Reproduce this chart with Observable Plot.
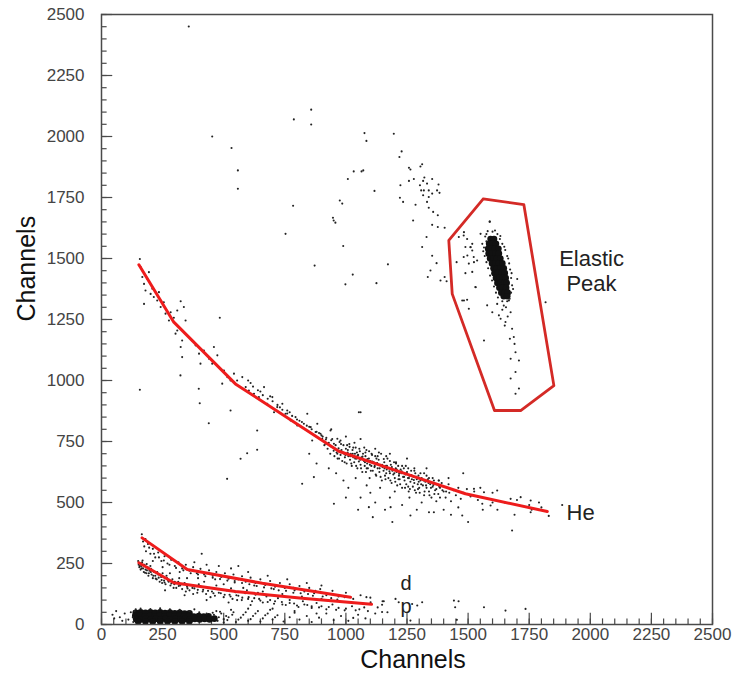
<!DOCTYPE html>
<html>
<head>
<meta charset="utf-8">
<script src="https://cdn.jsdelivr.net/npm/d3@7"></script>
<script src="https://cdn.jsdelivr.net/npm/@observablehq/plot@0.6"></script>
<style>
  html, body { margin: 0; padding: 0; background: #fff; }
  #chart { width: 735px; height: 683px; }
</style>
</head>
<body>
<div id="chart"></div>
<script>
// ---- tick labels ----
const xTicks = [0, 250, 500, 750, 1000, 1250, 1500, 1750, 2000, 2250, 2500];
const yTicks = [0, 250, 500, 750, 1000, 1250, 1500, 1750, 2000, 2250, 2500];

// ---- red gates ----
const heLine = [[153,1474],[296,1239],[548,986],[971,710],[1264,611],[1489,536],[1824,463]];
const dLine = [[166,355],[351,225],[658,169],[1019,112]];
const pLine = [[153,253],[296,171],[548,135],[821,108],[1105,83]];
const elasticGate = [[1562,1744],[1728,1721],[1851,979],[1715,877],[1608,877],[1435,1355],[1421,1574],[1562,1744]];

// ---- labels ----
const centerLabels = [
  {x: 2005, y: 1452, text: "Elastic\nPeak"}
];
const bandLabels = [
  {x: 1246, y: 167, text: "d"},
  {x: 1246, y: 72, text: "p"}
];
const startLabels = [
  {x: 1903, y: 456, text: "He"}
];

// ---- events: sparse upper scatter ----
const upperPts = [[357,2451],[453,2000],[532,1953],[558,1861],[558,1786],[858,2110],[787,2070],[858,2049],[1076,2014],[1084,1982],
[1196,2011],[1228,1939],[1219,1916],[1258,1872],[1264,1865],[1312,1886],[1305,1877],[1032,1857],[1064,1857],[1071,1861],
[1008,1826],[1258,1818],[1278,1826],[1321,1832],[1316,1818],[1353,1826],[1223,1800],[1303,1800],[1332,1807],[1379,1803],
[1308,1779],[1319,1779],[1339,1779],[1373,1779],[1383,1769],[1117,1777],[1316,1759],[1339,1752],[1353,1766],[1221,1749],
[1234,1732],[975,1738],[985,1725],[784,1716],[1285,1720],[1332,1732],[1339,1708],[947,1667],[950,1656],[957,1647],
[1275,1656],[1357,1691],[1376,1677],[1353,1638],[1376,1629],[1404,1626],[753,1601],[1330,1588],[989,1551],[1312,1547],
[1353,1511],[1371,1481],[872,1471],[1172,1476],[1028,1434],[998,1394],[1125,1399],[1335,1424],[1346,1451],[1387,1410],
[1404,1424],[1412,1407],[484,1257],[157,962],[323,1021],[398,966],[402,907],[439,825],[528,877],[637,795],[1053,870],
[569,679],[596,702],[637,716],[514,597],[1060,870],[1680,385],[1885,490],[1817,1321]];

// ---- events: inside / around the elastic peak ----
const elasticPts = [[1462,1588],[1482,1594],[1496,1580],[1517,1560],[1510,1547],[1489,1547],[1453,1485],[1482,1506],[1517,1533],[1523,1506],
[1503,1479],[1537,1492],[1489,1440],[1517,1445],[1530,1383],[1476,1328],[1496,1331],[1646,1307],[1667,1328],[1674,1280],
[1633,1253],[1653,1240],[1680,1212],[1687,1178],[1671,1171],[1694,1116],[1674,1089],[1708,1082],[1694,1035],[1674,1008],
[1708,967],[1694,946],[1565,1164],[1619,1314],[1599,1280],[1626,1267],[1578,1308],[1701,1416],[1503,1294],[1531,1382],
[1483,1328],[1497,1512],[1524,1485],[1551,1601],[1588,1651],[1483,1608],[1510,1546],[1589,1651],
[1570,1590],[1575,1570],[1565,1545],[1568,1510],[1575,1485],[1582,1460],[1590,1430],[1598,1410],[1606,1385],[1614,1360],
[1622,1340],[1640,1325],[1660,1325],[1676,1360],[1680,1390],[1676,1420],[1672,1455],[1668,1480],[1660,1510],[1652,1535],
[1640,1560],[1630,1580],[1620,1600],[1600,1610],[1580,1612],[1655,1300],[1640,1290],[1662,1262],[1650,1225],[1690,1150],
[1562,1530],[1558,1560],[1575,1600],[1610,1615],[1632,1592],[1648,1548],[1664,1500],[1678,1440],[1684,1375],[1670,1335]];

const elasticCore = [[1592,1580],[1606,1580],
[1586,1560],[1600,1560],[1614,1560],
[1582,1540],[1596,1540],[1610,1540],[1624,1540],
[1584,1520],[1598,1520],[1612,1520],[1626,1520],
[1590,1500],[1604,1500],[1618,1500],[1632,1500],
[1598,1480],[1612,1480],[1626,1480],[1640,1480],
[1604,1460],[1618,1460],[1632,1460],[1646,1460],
[1608,1440],[1622,1440],[1636,1440],[1650,1440],
[1614,1420],[1628,1420],[1642,1420],[1654,1420],
[1620,1400],[1634,1400],[1648,1400],[1658,1400],
[1628,1380],[1642,1380],[1656,1380],
[1636,1360],[1650,1360],[1662,1360],
[1646,1345],[1660,1345]];

// ---- events: He band ----
const hePts = [[157,1498],[160,1465],[167,1424],[174,1396],[187,1417],[194,1444],[180,1369],[201,1355],[208,1376],[214,1342],
[228,1328],[235,1362],[174,1314],[242,1301],[255,1321],[262,1274],[276,1246],[283,1280],[296,1257],[310,1287],
[324,1325],[337,1301],[344,1246],[310,1205],[303,1192],[330,1164],[324,1137],[330,1096],[371,1164],[385,1144],
[399,1110],[405,1069],[419,1123],[440,1089],[460,1137],[474,1103],[453,1069],[480,1055],[501,1041],[515,1014],
[494,987],[528,1000],[542,1028],[555,1000],[576,1014],[590,973],[603,959],[624,946],[644,932],[665,973],
[678,905],[699,932],[706,870],[719,891],[740,905],[753,864],[760,877],[774,836],[794,850],[801,816],
[828,823],[842,864],[856,809],[876,789],[883,823],[896,782],[903,761],[862,754],[917,741],[937,795],
[951,741],[965,761],[978,754],[600,1000],[620,975],[640,960],[660,940],[680,925],[700,915],[720,900],
[740,880],[760,865],[780,855],[800,840],[820,830],[840,815],[860,800],[880,790],[900,775],[920,765],
[940,755],[610,990],[650,955],[690,935],[730,890],[770,870],[810,835],[850,810],[890,785],
[905,770],[912,735],[918,758],[925,720],[930,745],[936,700],[940,730],[944,760],[950,712],[953,690],
[958,735],[962,705],[966,680],[970,722],[974,748],[978,695],[982,715],[985,670],[990,735],[993,700],
[996,685],[1000,720],[1003,660],[1007,705],[1010,690],[1014,740],[1017,675],[1020,700],[1024,650],[1027,715],
[1030,685],[1034,665],[1037,700],[1040,725],[1044,680],[1047,640],[1050,695],[1053,668],[1057,710],[1060,655],
[1064,685],[1067,625],[1070,700],[1074,670],[1077,650],[1080,690],[1084,715],[1087,660],[1090,640],[1094,680],
[1097,600],[1100,670],[1104,650],[1107,695],[1110,630],[1114,665],[1117,645],[1120,690],[1124,610],[1127,660],
[1130,640],[1134,675],[1137,625],[1140,655],[1144,700],[1147,590],[1150,645],[1154,630],[1157,665],[1160,610],
[1164,650],[1167,635],[1170,680],[1174,600],[1177,640],[1180,620],[1184,655],[1187,580],[1190,630],[1194,615],
[1197,665],[1200,600],[1204,640],[1207,625],[1210,570],[1214,650],[1217,610],[1220,595],[1224,635],[1227,620],
[1230,560],[1234,605],[1237,640],[1240,590],[1244,615],[1247,575],[1250,625],[1254,600],[1257,545],[1260,610],
[1264,585],[1267,630],[1270,595],[1274,565],[1277,605],[1280,580],[1284,620],[1287,540],[1290,595],[1294,575],
[1297,610],[1300,560],[1305,590],[1310,600],[1315,570],[1320,530],[1325,585],[1330,560],[1335,595],[1340,545],
[1345,575],[1350,520],[1355,565],[1360,590],[1365,550],[1370,575],[1378,535],[1385,560],[1392,580],[1400,545],
[1408,520],[1415,560],[1423,540],[1430,505],[1440,550],[1450,530],[1460,560],[1470,515],[1480,540],[1495,555],
[1510,525],[1525,545],[960,620],[990,590],[1010,560],[1040,600],[1060,520],[1085,570],[1100,540],[1120,500],
[1140,560],[1160,470],[1180,520],[1200,545],[1230,490],[1260,520],[1290,470],[1310,500],[1340,460],[1370,505],
[1400,470],[1430,450],[1460,480],[1500,420],[1050,470],[1000,520],[930,640],[880,660],[850,700],[1110,440],
[1190,420],[940,800],[1000,770],[1060,760],[1120,720],[1180,700],[1250,680],[1330,640],[1420,600],[1480,620],
[1550,560],[1600,540],[1650,500],[1700,510],[1750,490],[1800,480],[1830,445],[1560,470],[1620,470],[1690,450],
[1760,470],[1790,500],[1540,510],[1600,500],[1524,556],[1565,542],[1619,549],[1674,515],[1715,522],[1756,508],
[1756,460],[1592,488],[1558,495],[1476,447],[1360,460],[1264,447],[1183,481],[1094,481],[951,495],[821,577],[869,604],
[1015,728],[1035,745],[1075,725],[1095,710],[1135,705],[1165,690],[1205,665],[1245,650],[1280,640],[1320,620],
[1045,705],[1085,640],[1125,680],[1165,620],[1215,595],[1255,565],[1295,555],[1340,600],[1380,590],[1420,575],
[965,700],[975,710],[988,705],[998,695],[1008,715],[1018,690],[1028,700],[1038,680],[1048,692],[1058,675],
[1068,688],[1078,665],[1088,678],[1098,655],[1108,668],[1118,650],[1128,662],[1138,640],[1148,655],[1158,640],
[1168,650],[1178,628],[1188,645],[1198,620],[1208,635],[1218,618],[1228,628],[1238,605],[1248,620],[1258,600],
[1268,612],[1278,592],[1288,605],[1298,585],[1308,575],[1318,590],[1328,570],[1338,580],[1348,560],[1358,572],
[1370,555],[1382,565],[1395,550],[1410,545],[972,680],[995,665],[1022,660],[1042,650],[1062,640],[1082,625],
[1102,630],[1122,615],[1142,605],[1162,595],[1182,590],[1202,585],[1222,575],[1242,560],[1262,555],[1282,550],
[1302,540],[1322,545],[1342,530],[1362,535],[1385,520],[980,740],[1005,735],[1030,725],[1055,720],[1080,705],
[1105,700],[1130,690],[1155,678],[1180,670],[1205,660],[1230,650],[1255,640],[1280,630],[1305,620],[1330,610],
[1355,600],[1380,590]];

// ---- events: deuteron band ----
const dPts = [[165,370],[170,340],[175,320],[182,300],[190,330],[200,290],[210,310],[220,275],[232,295],[245,260],
[258,280],[270,250],[285,265],[300,240],[315,255],[330,230],[345,245],[360,220],[375,235],[390,210],
[405,228],[420,205],[440,222],[455,200],[470,215],[490,195],[505,210],[520,188],[540,205],[560,185],
[575,198],[590,175],[610,192],[630,170],[650,185],[670,162],[690,178],[710,155],[730,170],[750,150],
[770,165],[790,140],[810,158],[830,135],[850,150],[870,128],[895,145],[920,120],[945,138],[970,115],
[1000,130],[1030,105],[1060,120],[1100,110],[1150,95],[380,255],[430,245],[480,240],[530,230],[600,215],
[680,200],[760,185],[840,170],[900,160],[250,235],[320,215],[395,190],[465,185],[545,172],[625,160],
[705,145],[785,130],[865,118],[940,108],[1155,95],[1148,81],[1101,91],[1084,112],[1203,105],[1216,91],
[1312,91],[1292,78],[1271,84],[1442,98],[1461,95],[1447,71],[1565,71],[1653,57],[1735,64],[410,290],[560,240],
[180,350],[195,315],[215,290],[235,275],[255,262],[278,245],[305,232],[335,222],[365,210],[395,205],
[425,198],[455,192],[485,186],[515,180],[545,178],[575,170],[605,165],[635,158],[665,152],[695,148],
[725,140],[755,138],[785,150],[815,128],[845,125],[875,138],[905,115],[935,125],[965,102],[995,112]];

// ---- events: proton band ----
const pPts = [[150,260],[152,245],[155,235],[158,250],[160,225],[163,240],[166,255],[170,230],[173,215],[176,245],
[180,225],[184,210],[188,235],[192,200],[196,220],[200,240],[205,205],[210,190],[215,215],[220,200],
[226,185],[232,205],[238,175],[244,195],[250,210],[256,180],[262,165],[268,190],[275,175],[282,160],
[290,185],[298,165],[306,150],[314,175],[322,160],[330,145],[340,170],[350,155],[360,140],[370,162],
[380,148],[392,130],[404,158],[416,142],[428,125],[440,150],[452,135],[464,118],[476,145],[488,128],
[500,112],[512,140],[524,122],[536,105],[548,132],[560,118],[574,100],[588,128],[602,112],[616,95],
[630,122],[645,105],[660,90],[675,115],[690,100],[706,85],[722,108],[738,92],[754,80],[770,100],
[788,86],[806,72],[824,95],[842,80],[860,68],[880,88],[900,75],[920,62],[945,82],[970,68],
[995,58],[1025,75],[1055,62],[1090,55],[1130,70],[1170,50],[210,260],[280,210],[350,190],[420,175],
[500,165],[580,150],[660,135],[740,125],[820,115],[900,105],[260,140],[340,120],[430,100],[520,90],
[610,80],[700,65],[790,55],[880,45],[168,262],[185,248],[203,228],[228,215],[248,170],[266,200],
[295,150],[318,190],[345,135],[375,125],[398,165],[446,112],[470,160],[530,148],[555,100],[595,140],[640,130],[685,120],
[157,240],[164,230],[171,245],[178,212],[186,222],[194,210],[202,215],[212,200],[222,188],[234,192],
[246,182],[258,172],[272,180],[286,168],[300,175],[316,158],[334,165],[352,148],[372,150],[394,142],
[414,135],[436,138],[458,128],[480,130],[504,122],[528,115],[552,120],[576,110],[600,105],[625,108],
[650,98],[680,92],[710,95],[740,82],[770,88],[800,78],[830,82],[860,75],[890,70],[930,72],
[960,60],[1000,65],[1040,58],[1075,70]];

// ---- events: low-amplitude band near zero ----
const lowPts = [[45,40],[52,25],[60,55],[75,30],[85,15],[95,45],[110,20],[120,50],[520,30],[540,50],
[560,20],[580,40],[600,15],[620,35],[640,55],[660,25],[680,45],[700,20],[720,38],[745,12],
[770,30],[790,48],[810,20],[840,35],[860,10],[890,28],[920,45],[950,18],[980,35],[1010,15],
[1050,40],[1080,25],[1120,45],[530,60],[600,65],[690,60],[1030,27],[1148,51],[1454,19],[1264,16],
[140,62],[160,65],[200,63],[240,66],[280,62],[320,60],[360,55],[400,50],[430,45],[460,40],
[480,30],[500,22],[490,45],[510,35],[470,55],[380,62],[130,10],[135,55],[128,30],[500,8],[475,15],[455,48],[485,52],
[515,18],[535,40],[550,10],[570,28],[590,50],[610,22],[630,45],[650,12],[670,38],[710,30]];

const lowCore = [[140,48],[160,50],[180,48],[200,50],[220,48],[240,50],[260,47],[280,49],[300,46],[320,48],[340,45],[360,46],
[138,35],[158,36],[178,34],[198,36],[218,34],[238,36],[258,34],[278,36],[298,34],[318,36],[338,34],[358,35],[378,33],[398,35],[418,33],[438,34],
[142,22],[162,21],[182,23],[202,21],[222,23],[242,21],[262,23],[282,21],[302,23],[322,21],[342,23],[362,21],[382,23],[402,21],[422,23],[442,21],[462,24],
[150,12],[180,12],[210,12],[240,12],[270,12],[300,12],[330,12],[360,13]];

// ---- axis tick positions ----
const minorTicks = d3.range(0, 2501, 50);
const majorTicks = xTicks;

const allPts = [...upperPts, ...elasticPts, ...hePts, ...dPts, ...pPts, ...lowPts];
const corePts = [...elasticCore, ...lowCore];

const axisColor = "#4a4a4a";
const chart = Plot.plot({
  width: 735,
  height: 683,
  marginLeft: 101,
  marginRight: 23,
  marginTop: 14,
  marginBottom: 59,
  style: {fontFamily: "'Liberation Sans', Arial, sans-serif", background: "#fff", overflow: "visible"},
  x: {domain: [0, 2500], label: null},
  y: {domain: [0, 2500], label: null},
  marks: [
    // inward ticks
    Plot.ruleX(minorTicks, {x: d => d, y1: 0, y2: 23, stroke: axisColor, strokeWidth: 1.2}),
    Plot.ruleX(majorTicks, {x: d => d, y1: 0, y2: 46, stroke: axisColor, strokeWidth: 1.2}),
    Plot.ruleY(minorTicks, {y: d => d, x1: 0, x2: 23, stroke: axisColor, strokeWidth: 1.2}),
    Plot.ruleY(majorTicks, {y: d => d, x1: 0, x2: 46, stroke: axisColor, strokeWidth: 1.2}),
    Plot.axisX(xTicks, {tickSize: 0, tickPadding: 3, fontSize: 17, fill: "#444", label: null, tickFormat: d => String(d)}),
    Plot.axisY(yTicks, {tickSize: 0, tickPadding: 17, fontSize: 17, fill: "#444", label: null, tickFormat: d => String(d)}),
    // events
    Plot.dot(corePts, {x: d => d[0], y: d => d[1], r: 3.3, fill: "#111", stroke: null}),
    Plot.dot(allPts, {x: d => d[0], y: d => d[1], r: 1.05, fill: "#222", stroke: null}),
    // gates
    Plot.line(heLine, {x: d => d[0], y: d => d[1], stroke: "#ee1c1c", strokeWidth: 3}),
    Plot.line(dLine, {x: d => d[0], y: d => d[1], stroke: "#ee1c1c", strokeWidth: 3}),
    Plot.line(pLine, {x: d => d[0], y: d => d[1], stroke: "#ee1c1c", strokeWidth: 3}),
    Plot.line(elasticGate, {x: d => d[0], y: d => d[1], stroke: "#d42a26", strokeWidth: 2.8}),
    // labels
    Plot.text(centerLabels, {x: "x", y: "y", text: "text", textAnchor: "middle", fontSize: 22, fill: "#222", lineHeight: 1.15}),
    Plot.text(bandLabels, {x: "x", y: "y", text: "text", textAnchor: "middle", fontSize: 20, fill: "#222"}),
    Plot.text(startLabels, {x: "x", y: "y", text: "text", textAnchor: "start", fontSize: 22, fill: "#222"}),
    // frame
    Plot.frame({stroke: axisColor, strokeWidth: 1.5}),
    // axis titles
    Plot.text(["Channels"], {frameAnchor: "bottom", dy: 43, dx: 6, fontSize: 25, fill: "#111"}),
    Plot.text(["Channels"], {frameAnchor: "left", dx: -75, dy: 2, rotate: -90, fontSize: 25, fill: "#111"})
  ]
});
document.getElementById("chart").appendChild(chart);
</script>
</body>
</html>
